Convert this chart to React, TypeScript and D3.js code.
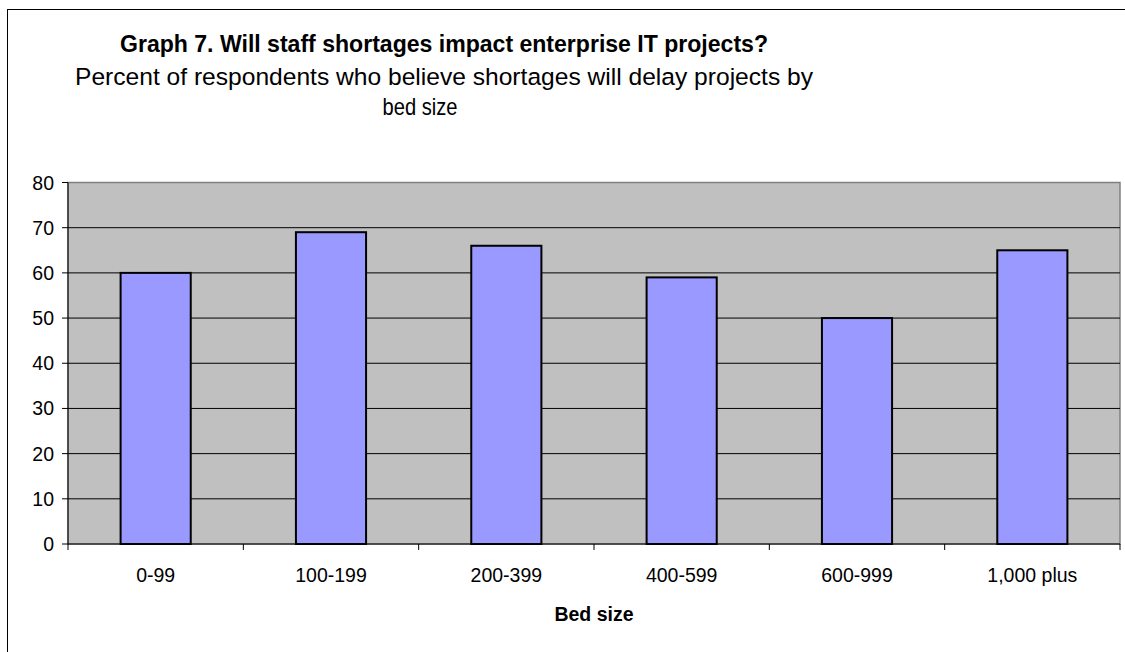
import React from "react";
import * as d3 from "d3";

const categories = ["0-99", "100-199", "200-399", "400-599", "600-999", "1,000 plus"];
const values = [60, 69, 66, 59, 50, 65];
const yTicks = [0, 10, 20, 30, 40, 50, 60, 70, 80];
const titleText = "Graph 7. Will staff shortages impact enterprise IT projects?";
const subtitle1 = "Percent of respondents who believe shortages will delay projects by";
const subtitle2 = "bed size";
const xAxisTitle = "Bed size";

export default function App() {
  const W = 1125, H = 652;
  const left = 68, right = 1120, top = 182.5, bottom = 544;
  const x = d3.scaleBand<string>().domain(categories).range([left, right]).paddingInner(0.6).paddingOuter(0.3);
  const xb = d3.scaleBand<string>().domain(categories).range([left, right]);
  const y = d3.scaleLinear().domain([0, 80]).range([bottom, top]);
  const font = "Arial, 'Liberation Sans', sans-serif";
  const boundaries = [...categories.map((c) => xb(c) as number), right];

  return (
    <svg width={W} height={H} style={{ position: "absolute", left: 0, top: 0, background: "#fff" }} fontFamily={font}>
      <rect x={7.5} y={9.5} width={1200} height={700} fill="#fff" stroke="#000" strokeWidth={1} />
      <text x={444} y={51.5} textAnchor="middle" fontSize={24.5} fontWeight="bold" textLength={648} lengthAdjust="spacingAndGlyphs" fill="#000">{titleText}</text>
      <text x={444} y={85} textAnchor="middle" fontSize={24.5} textLength={738} lengthAdjust="spacingAndGlyphs" fill="#000">{subtitle1}</text>
      <text x={420} y={115} textAnchor="middle" fontSize={24.5} textLength={75} lengthAdjust="spacingAndGlyphs" fill="#000">{subtitle2}</text>

      <rect x={left} y={top} width={right - left} height={bottom - top} fill="#C0C0C0" stroke="#808080" strokeWidth={1.5} />
      {yTicks.filter((t) => t > 0 && t < 80).map((t) => (
        <line key={t} x1={left} x2={right} y1={y(t)} y2={y(t)} stroke="#000" strokeWidth={1} />
      ))}
      {categories.map((c, i) => (
        <rect key={c} x={x(c)} y={y(values[i])} width={x.bandwidth()} height={bottom - y(values[i])} fill="#9999FF" stroke="#000" strokeWidth={2} />
      ))}
      <line x1={left} x2={left} y1={top} y2={bottom} stroke="#000" strokeWidth={1} />
      <line x1={left} x2={right} y1={bottom} y2={bottom} stroke="#000" strokeWidth={1} />
      {yTicks.map((t) => (
        <g key={t}>
          <line x1={left - 6} x2={left} y1={y(t)} y2={y(t)} stroke="#000" strokeWidth={1} />
          <text x={54} y={y(t)} dy="0.36em" textAnchor="end" fontSize={19.5} fill="#000">{t}</text>
        </g>
      ))}
      {boundaries.map((b, i) => (
        <line key={i} x1={b} x2={b} y1={bottom} y2={bottom + 6} stroke="#000" strokeWidth={1} />
      ))}
      {categories.map((c) => (
        <text key={c} x={(xb(c) as number) + xb.bandwidth() / 2} y={582} textAnchor="middle" fontSize={19.5} fill="#000">{c}</text>
      ))}
      <text x={(left + right) / 2} y={621} textAnchor="middle" fontSize={19.5} fontWeight="bold" fill="#000">{xAxisTitle}</text>
    </svg>
  );
}
